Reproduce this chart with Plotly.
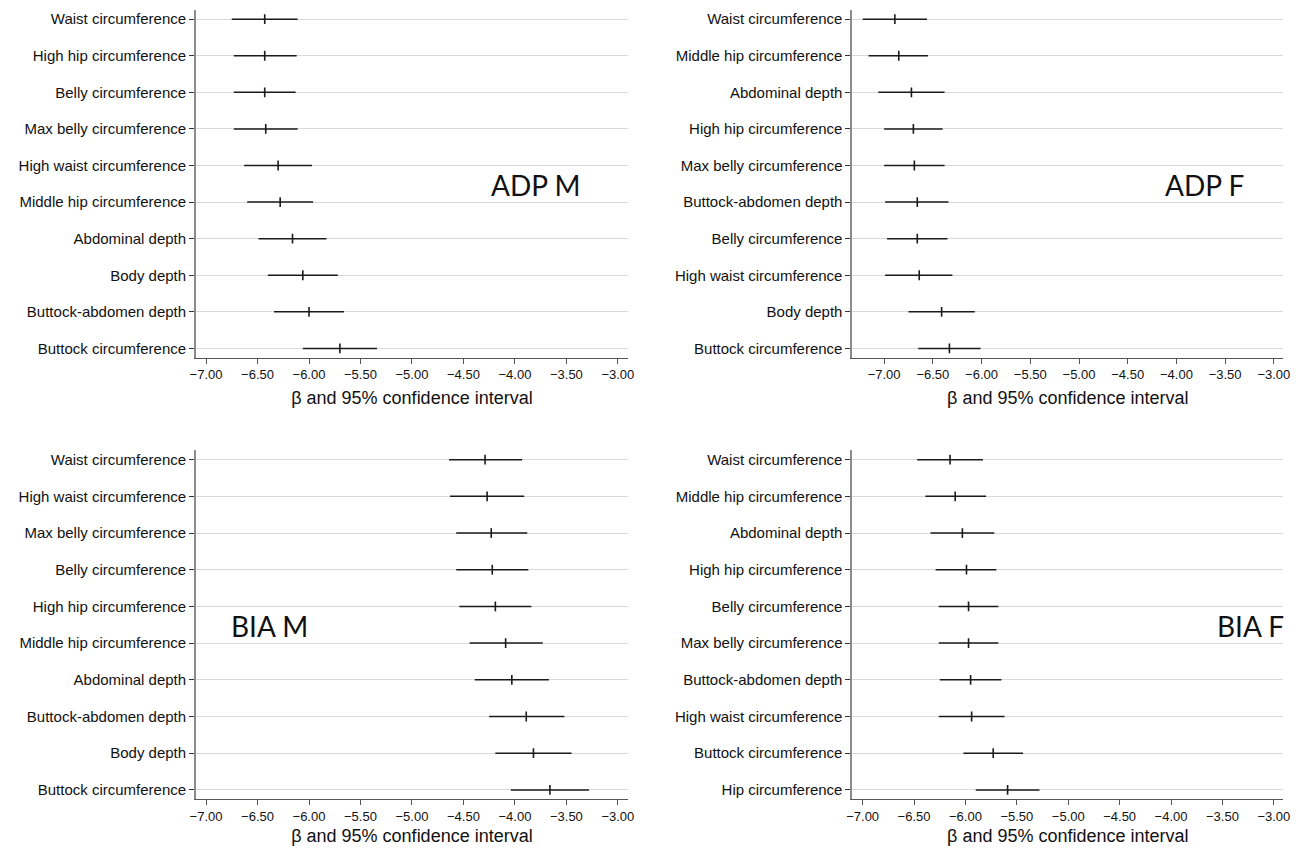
import plotly.graph_objects as go

# ---------------- data ----------------
adp_m_labels = ["Waist circumference", "High hip circumference", "Belly circumference",
                "Max belly circumference", "High waist circumference", "Middle hip circumference",
                "Abdominal depth", "Body depth", "Buttock-abdomen depth", "Buttock circumference"]
adp_m_beta = [-6.43, -6.43, -6.43, -6.42, -6.30, -6.28, -6.16, -6.06, -6.00, -5.70]
adp_m_lo = [-6.75, -6.73, -6.73, -6.73, -6.63, -6.60, -6.49, -6.40, -6.34, -6.06]
adp_m_hi = [-6.11, -6.12, -6.13, -6.11, -5.97, -5.96, -5.83, -5.72, -5.66, -5.34]

adp_f_labels = ["Waist circumference", "Middle hip circumference", "Abdominal depth",
                "High hip circumference", "Max belly circumference", "Buttock-abdomen depth",
                "Belly circumference", "High waist circumference", "Body depth", "Buttock circumference"]
adp_f_beta = [-6.89, -6.85, -6.72, -6.70, -6.69, -6.66, -6.66, -6.64, -6.41, -6.33]
adp_f_lo = [-7.22, -7.16, -7.06, -7.00, -7.00, -6.99, -6.97, -6.99, -6.75, -6.65]
adp_f_hi = [-6.56, -6.55, -6.38, -6.40, -6.38, -6.34, -6.35, -6.30, -6.07, -6.01]

bia_m_labels = ["Waist circumference", "High waist circumference", "Max belly circumference",
                "Belly circumference", "High hip circumference", "Middle hip circumference",
                "Abdominal depth", "Buttock-abdomen depth", "Body depth", "Buttock circumference"]
bia_m_beta = [-4.29, -4.27, -4.23, -4.22, -4.19, -4.09, -4.03, -3.89, -3.82, -3.66]
bia_m_lo = [-4.64, -4.63, -4.57, -4.57, -4.54, -4.44, -4.39, -4.25, -4.19, -4.04]
bia_m_hi = [-3.93, -3.91, -3.88, -3.87, -3.84, -3.73, -3.67, -3.52, -3.45, -3.28]

bia_f_labels = ["Waist circumference", "Middle hip circumference", "Abdominal depth",
                "High hip circumference", "Belly circumference", "Max belly circumference",
                "Buttock-abdomen depth", "High waist circumference", "Buttock circumference",
                "Hip circumference"]
bia_f_beta = [-6.15, -6.10, -6.03, -5.99, -5.97, -5.97, -5.95, -5.94, -5.73, -5.59]
bia_f_lo = [-6.47, -6.39, -6.34, -6.29, -6.26, -6.26, -6.25, -6.26, -6.02, -5.90]
bia_f_hi = [-5.83, -5.80, -5.72, -5.70, -5.68, -5.68, -5.65, -5.62, -5.44, -5.28]

panel_titles = ["ADP M", "ADP F", "BIA M", "BIA F"]
x_title = "β and 95% confidence interval"

# ---------------- layout geometry ----------------
OFF = 8            # page body margin
W, H = 1293, 838   # figure size so that the plot lands where the reference has it
panels = [
    dict(labels=adp_m_labels, beta=adp_m_beta, lo=adp_m_lo, hi=adp_m_hi,
         xdom=(192, 628), ydom=(10, 358), xr=(-7.096, -2.904), ann=(535, 185)),
    dict(labels=adp_f_labels, beta=adp_f_beta, lo=adp_f_lo, hi=adp_f_hi,
         xdom=(855, 1290), ydom=(10, 358), xr=(-7.325, -2.905), ann=(1211, 185)),
    dict(labels=bia_m_labels, beta=bia_m_beta, lo=bia_m_lo, hi=bia_m_hi,
         xdom=(192, 628), ydom=(451, 800), xr=(-7.096, -2.904), ann=(266, 627)),
    dict(labels=bia_f_labels, beta=bia_f_beta, lo=bia_f_lo, hi=bia_f_hi,
         xdom=(855, 1290), ydom=(451, 800), xr=(-7.099, -2.91), ann=(1257, 627)),
]


def px_x(v):
    return (v - OFF) / W


def px_y(v):
    return 1 - (v - OFF) / H


fig = go.Figure()
layout = dict(
    width=W, height=H,
    margin=dict(l=0, r=0, t=0, b=0),
    paper_bgcolor="white", plot_bgcolor="white",
    showlegend=False,
    font=dict(family="Liberation Sans, Arial, sans-serif", color="#111"),
)
annotations = []

for i, p in enumerate(panels):
    n = i + 1
    xa = "x" if n == 1 else f"x{n}"
    ya = "y" if n == 1 else f"y{n}"
    xs, ys = [], []
    for lab, lo, hi in zip(p["labels"], p["lo"], p["hi"]):
        xs += [lo, hi, None]
        ys += [lab, lab, None]
    fig.add_trace(go.Scatter(x=xs, y=ys, mode="lines", xaxis=xa, yaxis=ya,
                             line=dict(color="#1a1a1a", width=1.5),
                             hoverinfo="skip", connectgaps=False))
    fig.add_trace(go.Scatter(x=p["beta"], y=p["labels"], mode="markers", xaxis=xa, yaxis=ya,
                             marker=dict(symbol="line-ns", size=7,
                                         line=dict(color="#1a1a1a", width=1.6))))
    xkey = "xaxis" if n == 1 else f"xaxis{n}"
    ykey = "yaxis" if n == 1 else f"yaxis{n}"
    layout[xkey] = dict(
        domain=[px_x(p["xdom"][0]), px_x(p["xdom"][1])],
        anchor=ya, range=list(p["xr"]),
        tick0=-7, dtick=0.5, tickformat=".2f",
        showgrid=False, zeroline=False,
        showline=True, linecolor="#555", linewidth=1,
        ticks="outside", ticklen=5, tickcolor="#555", tickwidth=1,
        tickfont=dict(size=13, color="#111"),
        title=dict(text=x_title, font=dict(size=18, color="#111"), standoff=10),
    )
    layout[ykey] = dict(
        domain=[px_y(p["ydom"][1]), px_y(p["ydom"][0])],
        anchor=xa, type="category",
        categoryorder="array", categoryarray=p["labels"],
        range=[9.25, -0.25],
        showgrid=True, gridcolor="#d9d9d9", gridwidth=1,
        zeroline=False,
        showline=True, linecolor="#8c8c8c", linewidth=2,
        ticks="outside", ticklen=5, tickcolor="#333", tickwidth=1,
        tickfont=dict(size=15, color="#111"),
    )
    annotations.append(dict(
        text=panel_titles[i], x=px_x(p["ann"][0]), y=px_y(p["ann"][1]),
        xref="paper", yref="paper", showarrow=False,
        xanchor="center", yanchor="middle",
        font=dict(family="Lato, Noto Sans, sans-serif", size=28, color="#111"),
    ))

layout["annotations"] = annotations
fig.update_layout(**layout)
fig.write_html("out.html")
